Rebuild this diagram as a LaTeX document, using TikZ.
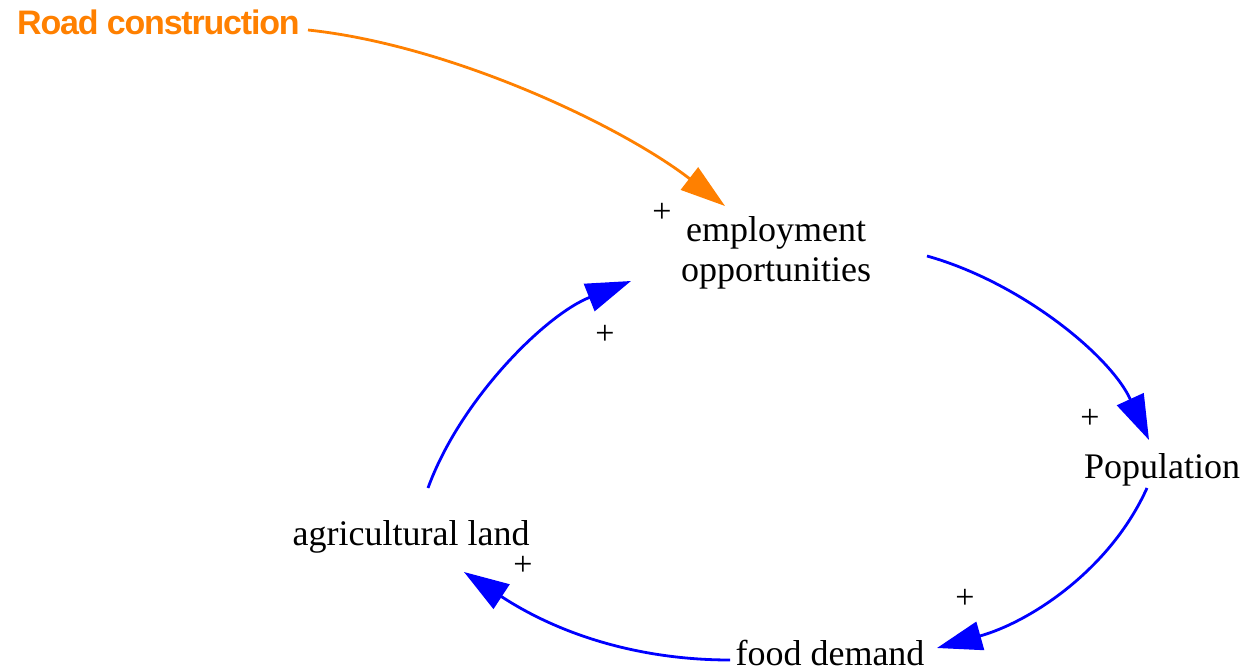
\documentclass[tikz,border=0pt]{standalone}
\usepackage{fontspec}
\setmainfont{Liberation Serif}
\newfontfamily\roadfont[LetterSpace=-3.5]{Liberation Sans}
\usetikzlibrary{arrows.meta}
\definecolor{roadorange}{RGB}{255,128,0}
\definecolor{linkblue}{RGB}{0,0,255}
\tikzset{
  var/.style={inner sep=0pt, anchor=base, font=\fontsize{36}{40}\selectfont, align=center},
  plus/.style={inner sep=0pt, font=\fontsize{34}{34}\selectfont},
  link/.style={draw=linkblue, line width=2.8pt, -{Triangle[length=45pt,width=29pt]}, linkblue},
  olink/.style={draw=roadorange, line width=2.8pt, -{Triangle[length=45pt,width=28pt]}, roadorange},
}
\begin{document}
\begin{tikzpicture}[x=1pt,y=-1pt]
\useasboundingbox (0,0) rectangle (1259,671);
% nodes
\node[inner sep=0pt, anchor=base west, text=roadorange, font=\roadfont\bfseries\fontsize{34}{34}\selectfont] (road) at (17,35) {Road construction};
\node[var] (emp) at (776,282) {employment\\opportunities};
\node[var] (pop) at (1162,478) {Population};
\node[var] (food) at (830,665) {food demand};
\node[var] (agri) at (411,545) {agricultural land};
% connector endpoints
\coordinate (roadE) at (308,30);
\coordinate (empIn) at (725,206);
\coordinate (empOut) at (927,256);
\coordinate (popIn) at (1149,440);
\coordinate (popOut) at (1147,488);
\coordinate (foodIn) at (937,648);
\coordinate (foodOut) at (730,660);
\coordinate (agriIn) at (464,572);
\coordinate (agriOut) at (428,488);
\coordinate (empIn2) at (631,281);
% connectors
\draw[olink] (roadE) .. controls (450,45) and (620,125) .. (empIn);
\draw[link] (empOut) .. controls (1020,282) and (1110,355) .. (popIn);
\draw[link] (popOut) .. controls (1110,570) and (1030,622) .. (foodIn);
\draw[link] (foodOut) .. controls (640,660) and (560,635) .. (agriIn);
\draw[link] (agriOut) .. controls (460,400) and (545,315) .. (empIn2);
% polarity signs
\node[plus] (p1) at (662,213) {+};
\node[plus] (p2) at (605,335) {+};
\node[plus] (p3) at (1090,419) {+};
\node[plus] (p4) at (965,599) {+};
\node[plus] (p5) at (523,566) {+};
\end{tikzpicture}
\end{document}
